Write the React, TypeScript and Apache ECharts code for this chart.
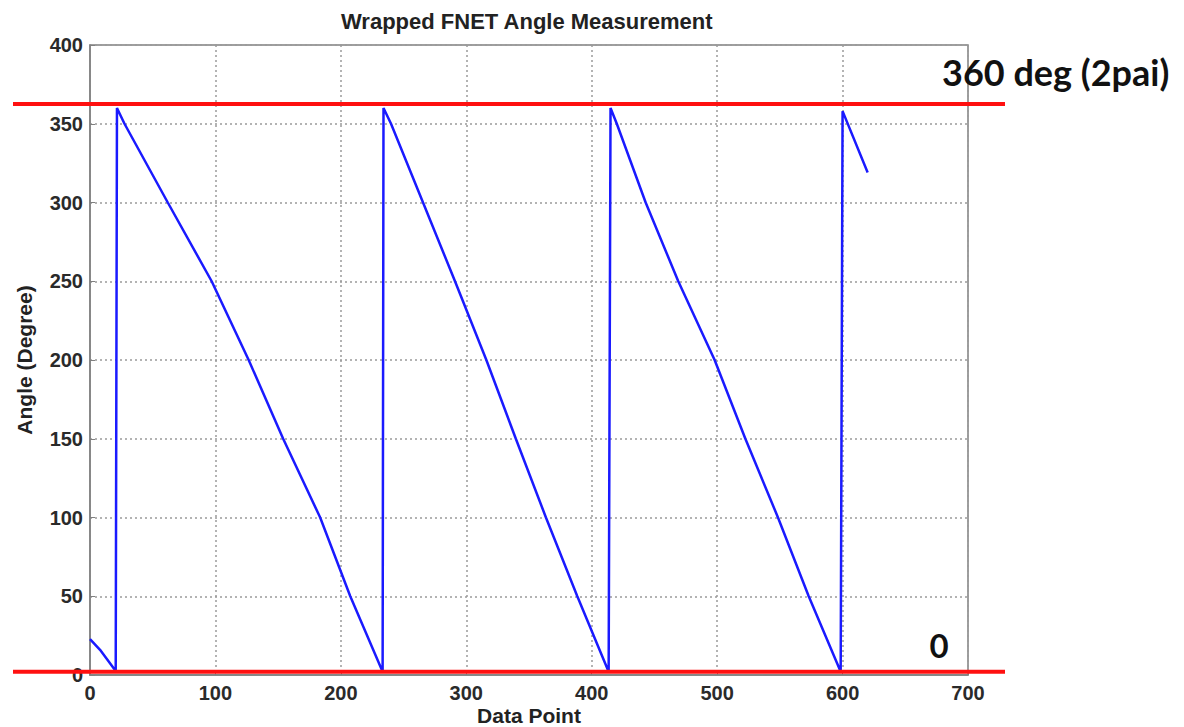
import React, { useEffect, useRef } from "react";
import * as echarts from "echarts";

// Data
const pointX: number[] = [
  0, 8, 20.5, 21.5,
  27.5, 62, 97, 126.5, 154, 183.5, 207.5, 233.3, 234,
  240, 265.5, 291, 316, 339.5, 363.5, 388.5, 413.5, 415,
  420, 443, 469, 498, 522.5, 548.5, 573, 598.5, 600,
  620,
];
const pointY: number[] = [
  22.8, 16, 2.5, 360,
  350, 300, 250, 200, 150, 100, 50, 2, 360,
  350, 300, 250, 200, 150, 100, 50, 2, 360,
  350, 300, 250, 200, 150, 100, 50, 2, 358,
  319,
];
const redLevels: number[] = [362.5, 2];
const titleText = "Wrapped FNET Angle Measurement";
const xName = "Data Point";
const yName = "Angle (Degree)";
const topLabel = "360 deg (2pai)";
const bottomLabel = "0";

const FONT = "'Liberation Sans', Arial, sans-serif";

export default function App() {
  const ref = useRef<HTMLDivElement>(null);
  useEffect(() => {
    if (!ref.current) return;
    const chart = echarts.init(ref.current, null, { renderer: "svg" });
    const data = pointX.map((x, i) => [x, pointY[i]]);
    chart.setOption({
      animation: false,
      backgroundColor: "#ffffff",
      title: {
        text: titleText,
        left: 336,
        top: 5,
        textStyle: { fontFamily: FONT, fontSize: 22, fontWeight: "bold", color: "#222" },
      },
      grid: {
        left: 90,
        right: 216,
        top: 45,
        bottom: 52,
        containLabel: false,
        outerBoundsMode: "none",
        show: true,
        borderColor: "#808080",
        borderWidth: 1.5,
      },
      xAxis: {
        type: "value",
        min: 0,
        max: 700,
        interval: 100,
        name: xName,
        nameLocation: "middle",
        nameGap: 30,
        nameMoveOverlap: false,
        nameTextStyle: { fontFamily: FONT, fontSize: 21, fontWeight: "bold", color: "#222" },
        axisLine: { show: true, lineStyle: { color: "#808080", width: 1.5 } },
        axisTick: { show: true, inside: true, length: 5, lineStyle: { color: "#808080" } },
        axisLabel: { fontFamily: FONT, fontSize: 20, fontWeight: "bold", color: "#2a2a2a", margin: 8 },
        splitLine: { show: true, lineStyle: { color: "#9a9a9a", width: 1.5, type: [2, 3] } },
      },
      yAxis: {
        type: "value",
        min: 0,
        max: 400,
        interval: 50,
        name: yName,
        nameLocation: "middle",
        nameGap: 55,
        nameMoveOverlap: false,
        nameTextStyle: { fontFamily: FONT, fontSize: 21, fontWeight: "bold", color: "#222" },
        axisLine: { show: true, lineStyle: { color: "#808080", width: 1.5 } },
        axisTick: { show: true, inside: true, length: 5, lineStyle: { color: "#808080" } },
        axisLabel: { fontFamily: FONT, fontSize: 20, fontWeight: "bold", color: "#2a2a2a", margin: 7 },
        splitLine: { show: true, lineStyle: { color: "#9a9a9a", width: 1.5, type: [2, 3] } },
      },
      series: [
        {
          type: "line",
          data,
          showSymbol: false,
          symbol: "none",
          lineStyle: { color: "#1a1aff", width: 2.5 },
          z: 3,
        },
      ],
    });
    const lines = redLevels.map((lv) => {
      const y = chart.convertToPixel({ yAxisIndex: 0 }, lv) as number;
      return {
        type: "line",
        z: 10,
        shape: { x1: 13, y1: y, x2: 1005, y2: y },
        style: { stroke: "#ff1010", lineWidth: 4 },
      };
    });
    chart.setOption({
      graphic: [
        ...lines,
        {
          type: "text",
          z: 11,
          x: 942,
          y: 72,
          style: {
            text: topLabel,
            fontFamily: "Lato, 'Open Sans', sans-serif",
            fontSize: 36,
            fontWeight: "bold",
            fill: "#111",
            textAlign: "left",
            textVerticalAlign: "middle",
          },
        },
        {
          type: "text",
          z: 11,
          x: 939,
          y: 645,
          style: {
            text: bottomLabel,
            fontFamily: "Lato, 'Open Sans', sans-serif",
            fontSize: 33,
            fontWeight: "bold",
            fill: "#111",
            textAlign: "center",
            textVerticalAlign: "middle",
          },
        },
      ],
    });
    return () => chart.dispose();
  }, []);
  return (
    <div
      ref={ref}
      style={{ position: "absolute", left: 0, top: 0, width: 1184, height: 727 }}
    />
  );
}
